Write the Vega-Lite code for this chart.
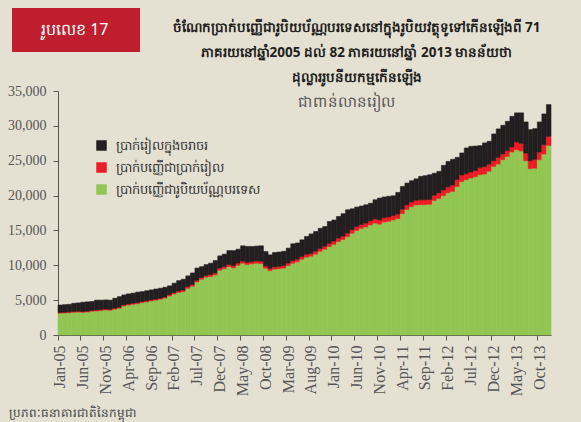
{
  "$schema": "https://vega.github.io/schema/vega-lite/v6.json",
  "width": 493,
  "height": 244,
  "autosize": {"type": "none"},
  "padding": {"left": 58, "top": 91, "right": 30, "bottom": 87},
  "background": "#E5E1D2",
  "config": {"view": {"stroke": null}, "font": "Noto Sans"},
  "title": {
    "text": ["ចំណែកប្រាក់បញ្ញើជារូបិយប័ណ្ណបរទេសនៅក្នុងរូបិយវត្ថុទូទៅកើនឡើងពី 71", "ភាគរយនៅឆ្នាំ2005 ដល់ 82 ភាគរយនៅឆ្នាំ 2013 មានន័យថា", "ដុល្លាររូបនីយកម្មកើនឡើង"],
    "anchor": "middle", "dx": 52, "fontSize": 13.5, "fontWeight": "bold", "lineHeight": 25, "color": "#231F20", "offset": -90, "baseline": "bottom"
  },
  "layer": [
    {
      "data": {"values": [
        {"m":"Jan-05","a":3120,"b":120,"c":1060},{"m":"Feb-05","a":3150,"b":120,"c":1080},{"m":"Mar-05","a":3200,"b":120,"c":1080},{"m":"Apr-05","a":3260,"b":130,"c":1160},{"m":"May-05","a":3280,"b":130,"c":1190},{"m":"Jun-05","a":3250,"b":130,"c":1320},{"m":"Jul-05","a":3300,"b":130,"c":1320},{"m":"Aug-05","a":3400,"b":130,"c":1270},{"m":"Sep-05","a":3450,"b":140,"c":1410},{"m":"Oct-05","a":3500,"b":140,"c":1360},{"m":"Nov-05","a":3590,"b":140,"c":1300},{"m":"Dec-05","a":3550,"b":140,"c":1310},
        {"m":"Jan-06","a":3700,"b":150,"c":1420},{"m":"Feb-06","a":3830,"b":150,"c":1520},{"m":"Mar-06","a":4170,"b":150,"c":1430},{"m":"Apr-06","a":4300,"b":150,"c":1450},{"m":"May-06","a":4410,"b":150,"c":1440},{"m":"Jun-06","a":4500,"b":150,"c":1500},{"m":"Jul-06","a":4650,"b":150,"c":1420},{"m":"Aug-06","a":4750,"b":150,"c":1450},{"m":"Sep-06","a":4890,"b":150,"c":1430},{"m":"Oct-06","a":5000,"b":150,"c":1450},{"m":"Nov-06","a":5130,"b":150,"c":1430},{"m":"Dec-06","a":5300,"b":150,"c":1400},
        {"m":"Jan-07","a":5600,"b":200,"c":1250},{"m":"Feb-07","a":5890,"b":200,"c":1340},{"m":"Mar-07","a":6100,"b":220,"c":1480},{"m":"Apr-07","a":6220,"b":220,"c":1560},{"m":"May-07","a":6700,"b":250,"c":1530},{"m":"Jun-07","a":7000,"b":250,"c":1650},{"m":"Jul-07","a":7600,"b":250,"c":1750},{"m":"Aug-07","a":8000,"b":250,"c":1550},{"m":"Sep-07","a":8300,"b":250,"c":1550},{"m":"Oct-07","a":8400,"b":280,"c":1620},{"m":"Nov-07","a":8620,"b":280,"c":1780},{"m":"Dec-07","a":9300,"b":300,"c":1750},
        {"m":"Jan-08","a":9500,"b":300,"c":1800},{"m":"Feb-08","a":9820,"b":300,"c":1990},{"m":"Mar-08","a":9640,"b":300,"c":2160},{"m":"Apr-08","a":10000,"b":320,"c":1990},{"m":"May-08","a":10300,"b":320,"c":2170},{"m":"Jun-08","a":10100,"b":320,"c":2280},{"m":"Jul-08","a":10200,"b":320,"c":2170},{"m":"Aug-08","a":10300,"b":330,"c":2120},{"m":"Sep-08","a":10250,"b":330,"c":2210},{"m":"Oct-08","a":9580,"b":330,"c":2060},{"m":"Nov-08","a":9240,"b":330,"c":1930},{"m":"Dec-08","a":9440,"b":330,"c":2060},
        {"m":"Jan-09","a":9500,"b":350,"c":2050},{"m":"Feb-09","a":9600,"b":350,"c":2050},{"m":"Mar-09","a":9950,"b":370,"c":2140},{"m":"Apr-09","a":10300,"b":370,"c":2410},{"m":"May-09","a":10500,"b":380,"c":2320},{"m":"Jun-09","a":10880,"b":380,"c":2390},{"m":"Jul-09","a":11170,"b":400,"c":2560},{"m":"Aug-09","a":11300,"b":400,"c":2800},{"m":"Sep-09","a":11600,"b":420,"c":2830},{"m":"Oct-09","a":12000,"b":420,"c":2880},{"m":"Nov-09","a":12300,"b":450,"c":2810},{"m":"Dec-09","a":12700,"b":450,"c":3130},
        {"m":"Jan-10","a":13000,"b":480,"c":3020},{"m":"Feb-10","a":13400,"b":500,"c":3100},{"m":"Mar-10","a":13700,"b":500,"c":3200},{"m":"Apr-10","a":14100,"b":520,"c":3340},{"m":"May-10","a":14600,"b":520,"c":2980},{"m":"Jun-10","a":15000,"b":550,"c":2800},{"m":"Jul-10","a":15300,"b":550,"c":2650},{"m":"Aug-10","a":15500,"b":560,"c":2620},{"m":"Sep-10","a":15800,"b":580,"c":2520},{"m":"Oct-10","a":16050,"b":600,"c":2750},{"m":"Nov-10","a":15900,"b":600,"c":3140},{"m":"Dec-10","a":16200,"b":620,"c":2980},
        {"m":"Jan-11","a":16300,"b":620,"c":2980},{"m":"Feb-11","a":16500,"b":640,"c":2830},{"m":"Mar-11","a":16700,"b":650,"c":3100},{"m":"Apr-11","a":17400,"b":650,"c":3260},{"m":"May-11","a":18000,"b":660,"c":3130},{"m":"Jun-11","a":18400,"b":680,"c":3050},{"m":"Jul-11","a":18650,"b":680,"c":3070},{"m":"Aug-11","a":18700,"b":700,"c":3350},{"m":"Sep-11","a":18700,"b":700,"c":3450},{"m":"Oct-11","a":18750,"b":700,"c":3540},{"m":"Nov-11","a":19300,"b":750,"c":3150},{"m":"Dec-11","a":19600,"b":780,"c":3090},
        {"m":"Jan-12","a":20000,"b":800,"c":3530},{"m":"Feb-12","a":20400,"b":850,"c":3650},{"m":"Mar-12","a":20600,"b":900,"c":3700},{"m":"Apr-12","a":21300,"b":1000,"c":3180},{"m":"May-12","a":22000,"b":950,"c":3160},{"m":"Jun-12","a":22270,"b":850,"c":3710},{"m":"Jul-12","a":22510,"b":870,"c":3680},{"m":"Aug-12","a":22700,"b":900,"c":3500},{"m":"Sep-12","a":22990,"b":1000,"c":3170},{"m":"Oct-12","a":23100,"b":1050,"c":3400},{"m":"Nov-12","a":23500,"b":1000,"c":3280},{"m":"Dec-12","a":24190,"b":810,"c":3840},
        {"m":"Jan-13","a":24530,"b":950,"c":4080},{"m":"Feb-13","a":25150,"b":810,"c":4120},{"m":"Mar-13","a":25620,"b":820,"c":4210},{"m":"Apr-13","a":26250,"b":720,"c":4400},{"m":"May-13","a":26580,"b":1110,"c":4170},{"m":"Jun-13","a":26400,"b":1100,"c":4360},{"m":"Jul-13","a":25000,"b":1110,"c":4450},{"m":"Aug-13","a":23860,"b":1140,"c":4460},{"m":"Sep-13","a":23930,"b":1270,"c":4400},{"m":"Oct-13","a":25150,"b":1100,"c":4310},{"m":"Nov-13","a":25960,"b":1340,"c":4410},{"m":"Dec-13","a":27200,"b":1300,"c":4550}
      ]},
      "transform": [{"fold": ["a", "b", "c"], "as": ["k", "v"]}],
      "mark": {"type": "bar", "strokeWidth": 0.6},
      "encoding": {
        "x": {
          "field": "m", "type": "ordinal", "sort": null,
          "scale": {"paddingInner": 0, "paddingOuter": 0},
          "axis": {
            "values": ["Jan-05","Jun-05","Nov-05","Apr-06","Sep-06","Feb-07","Jul-07","Dec-07","May-08","Oct-08","Mar-09","Aug-09","Jan-10","Jun-10","Nov-10","Apr-11","Sep-11","Feb-12","Jul-12","Dec-12","May-13","Oct-13"],
            "bandPosition": 0, "labelAngle": 270, "labelFont": "Liberation Serif", "labelFontSize": 16, "labelColor": "#555555",
            "labelPadding": 5, "domainColor": "#555555", "tickColor": "#555555", "tickSize": 5, "grid": false,
            "title": "ប្រភពៈធនាគារជាតិនៃកម្ពុជា", "titleX": -50, "titleY": 77, "titleAlign": "left", "titleBaseline": "middle",
            "titleFontSize": 12, "titleFontWeight": "normal", "titleColor": "#444444"
          }
        },
        "y": {
          "field": "v", "type": "quantitative", "stack": "zero",
          "scale": {"domain": [0, 35000], "nice": false},
          "axis": {
            "values": [0,5000,10000,15000,20000,25000,30000,35000], "format": ",.0f", "grid": false,
            "labelFont": "Liberation Serif", "labelFontSize": 14, "labelColor": "#555555", "labelPadding": 7,
            "domainColor": "#555555", "tickColor": "#555555", "tickSize": 5,
            "title": "ជាពាន់លានរៀល", "titleAngle": 0, "titleX": 288, "titleY": 10, "titleAlign": "center", "titleBaseline": "middle",
            "titleFontSize": 15, "titleFontWeight": "normal", "titleColor": "#555555"
          }
        },
        "color": {
          "field": "k", "type": "nominal",
          "scale": {"domain": ["c", "b", "a"], "range": ["#231F20", "#ED1C24", "#92C653"]},
          "legend": {
            "orient": "none", "legendX": 37, "legendY": 48, "title": null, "padding": 0,
            "symbolType": "square", "symbolSize": 110, "symbolStrokeWidth": 0, "labelFontSize": 13, "labelColor": "#333333",
            "labelOffset": 8, "rowPadding": 8,
            "labelExpr": "datum.label == 'c' ? 'ប្រាក់រៀលក្នុងចរាចរ' : datum.label == 'b' ? 'ប្រាក់បញ្ញើជាប្រាក់រៀល' : 'ប្រាក់បញ្ញើជារូបិយប័ណ្ណបរទេស'"
          }
        },
        "stroke": {
          "field": "k", "type": "nominal",
          "scale": {"domain": ["c", "b", "a"], "range": ["#231F20", "#ED1C24", "#92C653"]},
          "legend": null
        },
        "order": {"field": "k", "sort": "ascending"}
      }
    },
    {
      "data": {"values": [{}]},
      "mark": {"type": "rect", "color": "#BE1E2D"},
      "encoding": {"x": {"value": -46}, "x2": {"value": 82}, "y": {"value": -83}, "y2": {"value": -39}}
    },
    {
      "data": {"values": [{}]},
      "mark": {"type": "text", "text": "រូបលេខ 17", "color": "#FFFFFF", "fontSize": 16, "align": "left", "baseline": "middle"},
      "encoding": {"x": {"value": -17}, "y": {"value": -61}}
    }
  ]
}
